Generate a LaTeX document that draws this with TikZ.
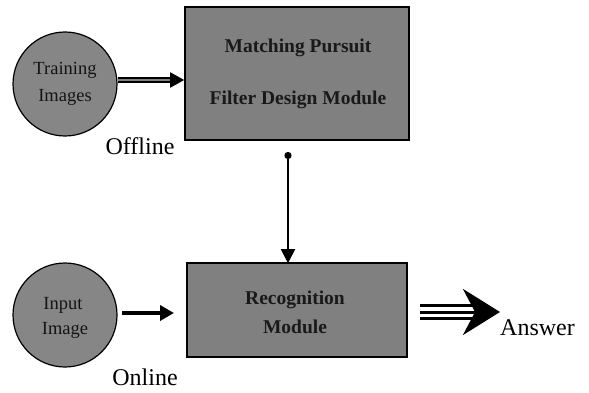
\documentclass[tikz,border=0pt]{standalone}
\usepackage{fontspec}
\setmainfont{Liberation Serif}
\usetikzlibrary{arrows.meta}
\definecolor{boxgray}{RGB}{128,128,128}
\definecolor{blobgray}{RGB}{134,134,134}
\begin{document}
\begin{tikzpicture}[x=1pt,y=-1pt,
  module/.style={draw=black,line width=1.6pt,fill=boxgray,inner sep=0pt},
  source/.style={circle,draw=black,line width=1.2pt,fill=blobgray,minimum size=104pt,inner sep=0pt},
  lbl/.style={inner sep=0pt,font=\fontsize{24}{24}\selectfont},
  boxtext/.style={inner sep=0pt,font=\bfseries\fontsize{19.5}{19.5}\selectfont,text=black!90},
  blobtext/.style={inner sep=0pt,font=\fontsize{18.5}{18.5}\selectfont,text=black!92},
  feed/.style={draw=black,line width=4pt,-{Triangle[length=14pt,width=15pt]}},
  link/.style={draw=black,line width=2pt,{Circle[length=7pt]}-{Triangle[length=14pt,width=14pt]}}
]
\useasboundingbox[fill=white] (0,0) rectangle (589,393);

% processing modules
\node[module,minimum width=224pt,minimum height=133pt] (mpbox) at (297,73.5) {};
\node[boxtext] (mptitle) at (298,48) {Matching Pursuit};
\node[boxtext] (mpsub) at (298,100) {Filter Design Module};

\node[module,minimum width=220pt,minimum height=94pt] (recog) at (297,310) {};
\node[boxtext] (rctitle) at (295,300) {Recognition};
\node[boxtext] (rcsub) at (295,327) {Module};

% image sources
\node[source] (train) at (65,84) {};
\node[blobtext] (trainA) at (65,70) {Training};
\node[blobtext] (trainB) at (65,97) {Images};

\node[source] (input) at (65,315) {};
\node[blobtext] (inputA) at (63,305) {Input};
\node[blobtext] (inputB) at (65,330) {Image};

% phase labels
\node[lbl] (offline) at (140,146) {Offline};
\node[lbl] (online) at (145,377) {Online};
\node[lbl,anchor=west] (answer) at (500,328) {Answer};

% connectors
\coordinate (trainOut) at (train.east |- 0,80);
\coordinate (mpIn) at (mpbox.west |- 0,80);
\draw[feed,line width=2pt,double=black!50,double distance=1.2pt] (trainOut) -- (mpIn);

\coordinate (inputOut) at (122,313);
\coordinate (recogIn) at (174,313);
\draw[feed,line width=4pt] (inputOut) -- (recogIn);

\coordinate (mpOut) at (288,152);
\coordinate (recogTop) at (recog.north -| mpOut);
\draw[link] (mpOut) -- ([yshift=-1pt]recogTop);

% triple-line output arrow
\coordinate (outStart) at (420,312);
\coordinate (outTip) at (500,312);
\foreach \dy in {-6.5,6.5}
  \draw[black,line width=3pt] ([yshift=\dy pt]outStart) -- ([xshift=-28pt,yshift=\dy pt]outTip);
\draw[black,line width=3pt,-{Stealth[length=37pt,width=46pt,inset=12pt]}] (outStart) -- (outTip);
\end{tikzpicture}
\end{document}
